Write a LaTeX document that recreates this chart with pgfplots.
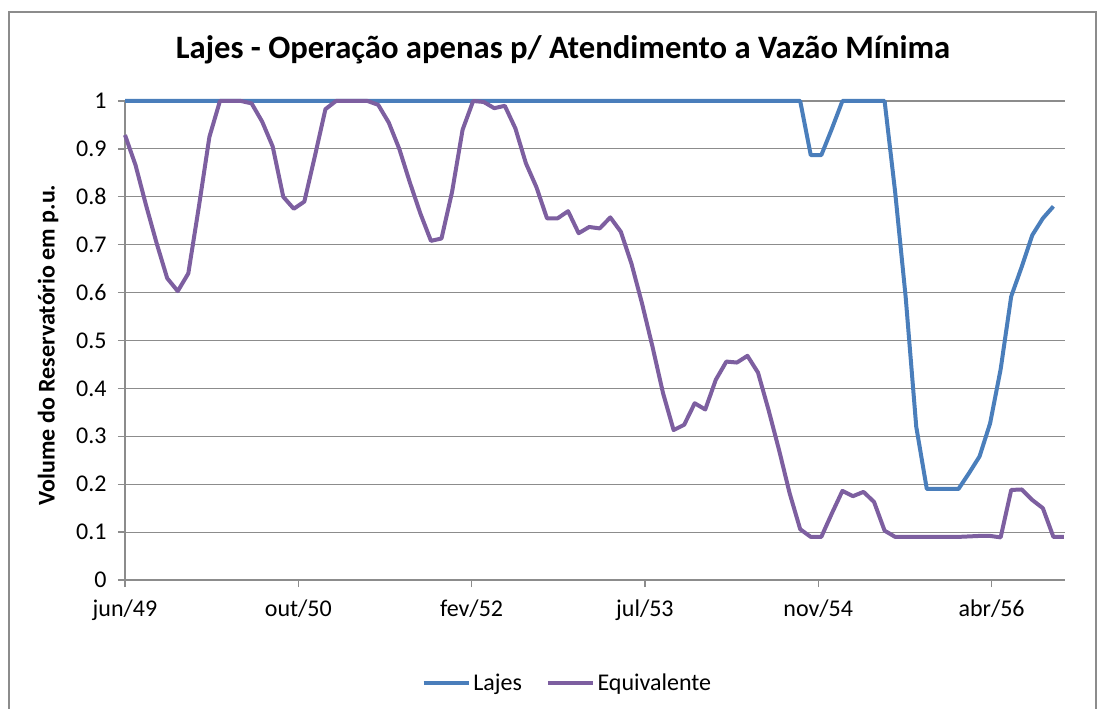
\documentclass[border=0pt]{standalone}
\usepackage{fontspec}
\setmainfont{Carlito}
\usepackage{pgfplots}
\pgfplotsset{compat=1.18}
\definecolor{lajes}{HTML}{4A7EBB}
\definecolor{equiv}{HTML}{7D5FA0}
\definecolor{gridc}{HTML}{8C8C8C}

\pgfplotstableread{
m v
0 1.0
64 1.0
65 0.887
66 0.887
67 0.942
68 1.0
69 1.0
70 1.0
71 1.0
72 1.0
73 0.81
74 0.59
75 0.32
76 0.19
77 0.19
78 0.19
79 0.19
80 0.223
81 0.258
82 0.327
83 0.44
84 0.592
85 0.654
86 0.72
87 0.755
88 0.78
}\lajestab

\pgfplotstableread{
m v
0 0.929
1 0.866
2 0.782
3 0.703
4 0.630
5 0.603
6 0.640
7 0.779
8 0.925
9 1.0
10 1.0
11 1.0
12 0.995
13 0.957
14 0.905
15 0.800
16 0.775
17 0.790
18 0.885
19 0.983
20 1.0
21 1.0
22 1.0
23 1.0
24 0.992
25 0.955
26 0.900
27 0.830
28 0.765
29 0.708
30 0.713
31 0.810
32 0.940
33 1.0
34 0.998
35 0.985
36 0.990
37 0.943
38 0.870
39 0.820
40 0.755
41 0.755
42 0.770
43 0.724
44 0.737
45 0.734
46 0.757
47 0.727
48 0.661
49 0.578
50 0.487
51 0.390
52 0.313
53 0.324
54 0.369
55 0.356
56 0.418
57 0.456
58 0.454
59 0.468
60 0.433
61 0.355
62 0.271
63 0.181
64 0.106
65 0.090
66 0.090
67 0.139
68 0.186
69 0.175
70 0.184
71 0.163
72 0.103
73 0.090
74 0.090
75 0.090
76 0.090
77 0.090
78 0.090
79 0.090
80 0.091
81 0.092
82 0.092
83 0.089
84 0.188
85 0.189
86 0.167
87 0.150
88 0.090
89 0.090
}\equivtab

\begin{document}
\begin{tikzpicture}
\useasboundingbox (0pt,0pt) rectangle (830.25pt,531pt);
\draw[gridc, line width=1.2pt] (6.75pt,-10pt) -- (6.75pt,522pt) -- (822pt,522pt) -- (822pt,-10pt);
\node[font=\bfseries\fontsize{24.5}{28}\selectfont] at (422.25pt,493.5pt) {Lajes - Operação apenas p/ Atendimento a Vazão Mínima};
\node[rotate=90, font=\bfseries\fontsize{18}{22}\selectfont] at (36pt,272.25pt) {Volume do Reservatório em p.u.};
\begin{axis}[
  at={(93.75pt,96pt)}, anchor=south west,
  width=705pt, height=359.25pt, scale only axis,
  xmin=0, xmax=89.1, ymin=0, ymax=1,
  axis x line=bottom, axis y line=left,
  axis line style={-, gridc, line width=1pt},
  xtick={0,16.43,32.85,49.28,65.71,82.14},
  xticklabels={jun/49,out/50,fev/52,jul/53,nov/54,abr/56},
  ytick={0,0.1,0.2,0.3,0.4,0.5,0.6,0.7,0.8,0.9,1},
  yticklabels={0,0.1,0.2,0.3,0.4,0.5,0.6,0.7,0.8,0.9,1},
  tick align=outside, major tick length=5.25pt,
  tick style={gridc, line width=1pt},
  ymajorgrids, grid style={gridc, line width=0.8pt},
  ticklabel style={font=\fontsize{18}{22}\selectfont, black},
  xticklabel style={yshift=-6pt},
  yticklabel style={xshift=-5pt},
  legend style={at={(0.471,-0.215)}, anchor=center, draw=none, fill=none,
    legend columns=2, font=\fontsize{18}{22}\selectfont,
    /tikz/every even column/.append style={column sep=16pt},
    inner sep=0pt},
  legend image code/.code={\draw[#1, line width=3pt] (0pt,0pt) -- (33.75pt,0pt);},
  clip=false,
]
\addplot[lajes, line width=3pt, line join=round] table[x=m, y=v] {\lajestab};
\addlegendentry{Lajes}
\addplot[equiv, line width=3pt, line join=round] table[x=m, y=v] {\equivtab};
\addlegendentry{Equivalente}
\end{axis}
\end{tikzpicture}
\end{document}
